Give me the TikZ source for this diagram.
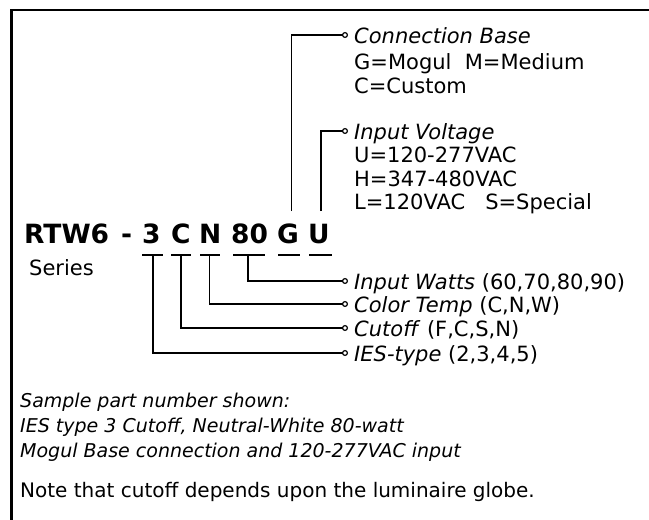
\documentclass[tikz,border=0pt]{standalone}
\usepackage{fontspec}
\setmainfont{DejaVu Sans}
\usetikzlibrary{arrows.meta}
\tikzset{
  txt/.style={inner sep=0pt, anchor=base west, font=\fontsize{21}{24}\selectfont},
  notetxt/.style={inner sep=0pt, anchor=base west, font=\fontsize{20}{24}\selectfont},
  itx/.style={inner sep=0pt, anchor=base west, font=\fontsize{19}{22}\itshape\selectfont},
  big/.style={inner sep=0pt, anchor=base west, font=\fontsize{26.5}{30}\bfseries\selectfont},
  conn/.style={line width=1.4pt, -{Circle[open,length=6pt,line width=1.2pt]}},
  bar/.style={line width=1.4pt},
}
\begin{document}
\begin{tikzpicture}[x=1pt,y=-1pt]
\useasboundingbox (0,0) rectangle (649,520);
% open frame
\draw[line width=2.6pt] (11.3,520) -- (11.3,10) -- (649,10);
% part number
\node[big] (rtw) at (24,243) {RTW6};
\node[big] (dash) at (121,243) {-};
\node[big] (p3) at (142,243) {3};
\node[big] (pC) at (171,243) {C};
\node[big] (pN) at (199,243) {N};
\node[big] (p80) at (231,243) {80};
\node[big] (pG) at (277,243) {G};
\node[big] (pU) at (308,243) {U};
\node[txt] (series) at (29,275) {Series};
% bars
\coordinate (b3a) at (142,255); \coordinate (b3b) at (163,255);
\coordinate (bCa) at (171,255); \coordinate (bCb) at (191,255);
\coordinate (bNa) at (200,255); \coordinate (bNb) at (220,255);
\coordinate (b8a) at (233,255); \coordinate (b8b) at (265,255);
\coordinate (bGa) at (278,255); \coordinate (bGb) at (300,255);
\coordinate (bUa) at (309,255); \coordinate (bUb) at (332,255);
\foreach \a/\b in {b3a/b3b,bCa/bCb,bNa/bNb,b8a/b8b,bGa/bGb,bUa/bUb}
  \draw[bar] (\a) -- (\b);
\coordinate (d3) at (153,255);
\coordinate (dC) at (181,255);
\coordinate (dN) at (209.5,255);
\coordinate (d8) at (248,255);
\coordinate (uG) at (291.5,211);
\coordinate (uU) at (321,211);
% end points
\coordinate (cBase) at (348,35);
\coordinate (cVolt) at (348,131);
\coordinate (cWatt) at (348,281);
\coordinate (cTemp) at (348,304);
\coordinate (cCut) at (348,328);
\coordinate (cIES) at (348,353);
\draw[conn] (uG) |- (cBase);
\draw[conn] (uU) |- (cVolt);
\draw[conn] (d8) |- (cWatt);
\draw[conn] (dN) |- (cTemp);
\draw[conn] (dC) |- (cCut);
\draw[conn] (d3) |- (cIES);
% labels
\node[txt] (base1) at (354,43) {\textit{Connection Base}};
\node[txt] (base2) at (354,69) {G=Mogul\ \ M=Medium};
\node[txt] (base3) at (354,93) {C=Custom};
\node[txt] (volt1) at (354,139) {\textit{Input Voltage}};
\node[txt] (volt2) at (354,162) {U=120-277VAC};
\node[txt] (volt3) at (354,186) {H=347-480VAC};
\node[txt] (volt4) at (354,209) {L=120VAC\ \ \ S=Special};
\node[txt] (watt) at (354,289) {\textit{Input Watts} (60,70,80,90)};
\node[txt] (temp) at (354,312) {\textit{Color Temp} (C,N,W)};
\node[txt] (cut) at (354,336) {\textit{Cutoff} (F,C,S,N)};
\node[txt] (ies) at (354,361) {\textit{IES-type} (2,3,4,5)};
% notes
\node[itx] (s1) at (20,407) {Sample part number shown:};
\node[itx] (s2) at (20,432) {IES type 3 Cutoff, Neutral-White 80-watt};
\node[itx] (s3) at (20,457) {Mogul Base connection and 120-277VAC input};
\node[notetxt] (note) at (20,497) {Note that cutoff depends upon the luminaire globe.};
\end{tikzpicture}
\end{document}
